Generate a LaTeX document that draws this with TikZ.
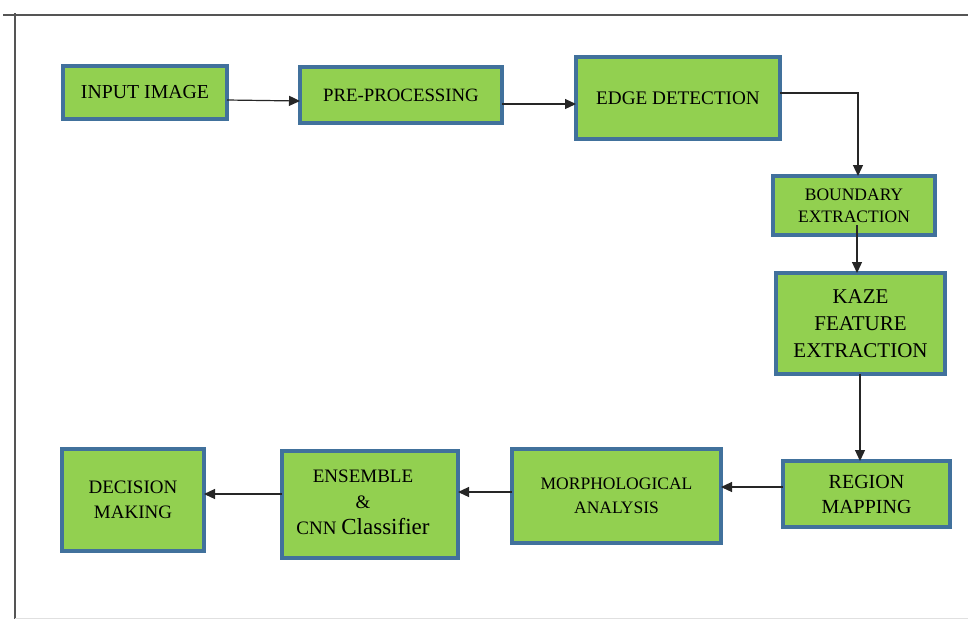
\documentclass[tikz,border=0pt]{standalone}
\usepackage{fontspec}
\setmainfont{Liberation Serif}
\usetikzlibrary{arrows.meta}
\definecolor{boxfill}{HTML}{92D050}
\definecolor{boxline}{HTML}{41719C}
\definecolor{framec}{HTML}{555555}
\tikzset{
  blk/.style={draw=boxline, line width=3.4pt, fill=boxfill, inner sep=0pt, outer sep=0pt, align=center, text=black},
  arr/.style={draw=black!85, line width=1.2pt, -{Triangle[length=11pt,width=10pt]}}
}
\begin{document}
\begin{tikzpicture}[x=1pt,y=-1pt]
\useasboundingbox (0,0) rectangle (968,619);
% frame
\draw[framec, line width=1.4pt] (3,15) -- (968,15);
\draw[framec, line width=1.4pt] (15,13) -- (15,619);
\draw[black!12, line width=1pt] (15,618) -- (968,618);
% boxes
\node[blk, minimum width=164pt, minimum height=53pt, font=\fontsize{19.8}{23}\selectfont] (inp) at (145,92.5) {INPUT IMAGE};
\node[blk, minimum width=202pt, minimum height=56pt, font=\fontsize{18.8}{22}\selectfont] (pre) at (401,95) {PRE-PROCESSING};
\node[blk, minimum width=204pt, minimum height=82pt, font=\fontsize{19.2}{22}\selectfont] (edge) at (678,98) {EDGE DETECTION};
\node[blk, minimum width=162pt, minimum height=59pt, font=\fontsize{17.5}{22}\selectfont] (bnd) at (854,205.5) {BOUNDARY\\EXTRACTION};
\node[blk, minimum width=169pt, minimum height=101pt, font=\fontsize{21}{27}\selectfont] (kaze) at (860.5,323.5) {KAZE\\FEATURE\\EXTRACTION};
\node[blk, minimum width=167pt, minimum height=66pt, font=\fontsize{20}{25}\selectfont] (reg) at (866.5,494) {REGION\\MAPPING};
\node[blk, minimum width=209pt, minimum height=94pt, font=\fontsize{17.5}{24}\selectfont] (mor) at (616.5,496) {MORPHOLOGICAL\\ANALYSIS};
\node[blk, minimum width=176pt, minimum height=107pt] (ens) at (370,504.5) {};
\node[align=center, inner sep=0pt, font=\fontsize{19}{26}\selectfont] (enst) at (363,502) {ENSEMBLE\\\&\\CNN {\fontsize{23}{26}\selectfont Classifier}};
\node[blk, minimum width=142pt, minimum height=102pt, font=\fontsize{19}{25}\selectfont] (dec) at (133,500) {DECISION\\MAKING};
% connectors
\coordinate (c1) at (858,93);
\coordinate (c2) at (857,225);
\coordinate (c3) at (860,420);
\draw[arr] (inp.east |- 0,100) -- (pre.west |- 0,101);
\draw[arr] (pre.east |- 0,104) -- (edge.west |- 0,104);
\draw[arr] (edge.east |- c1) -- (c1) -- (c1 |- bnd.north);
\draw[arr] (c2) -- (c2 |- kaze.north);
\draw[arr] (c3 |- kaze.south) -- (c3 |- reg.north);
\draw[arr] (reg.west |- 0,487) -- (mor.east |- 0,487);
\draw[arr] (mor.west |- 0,492) -- (ens.east |- 0,492);
\draw[arr] (ens.west |- 0,494) -- (dec.east |- 0,494);
\end{tikzpicture}
\end{document}
